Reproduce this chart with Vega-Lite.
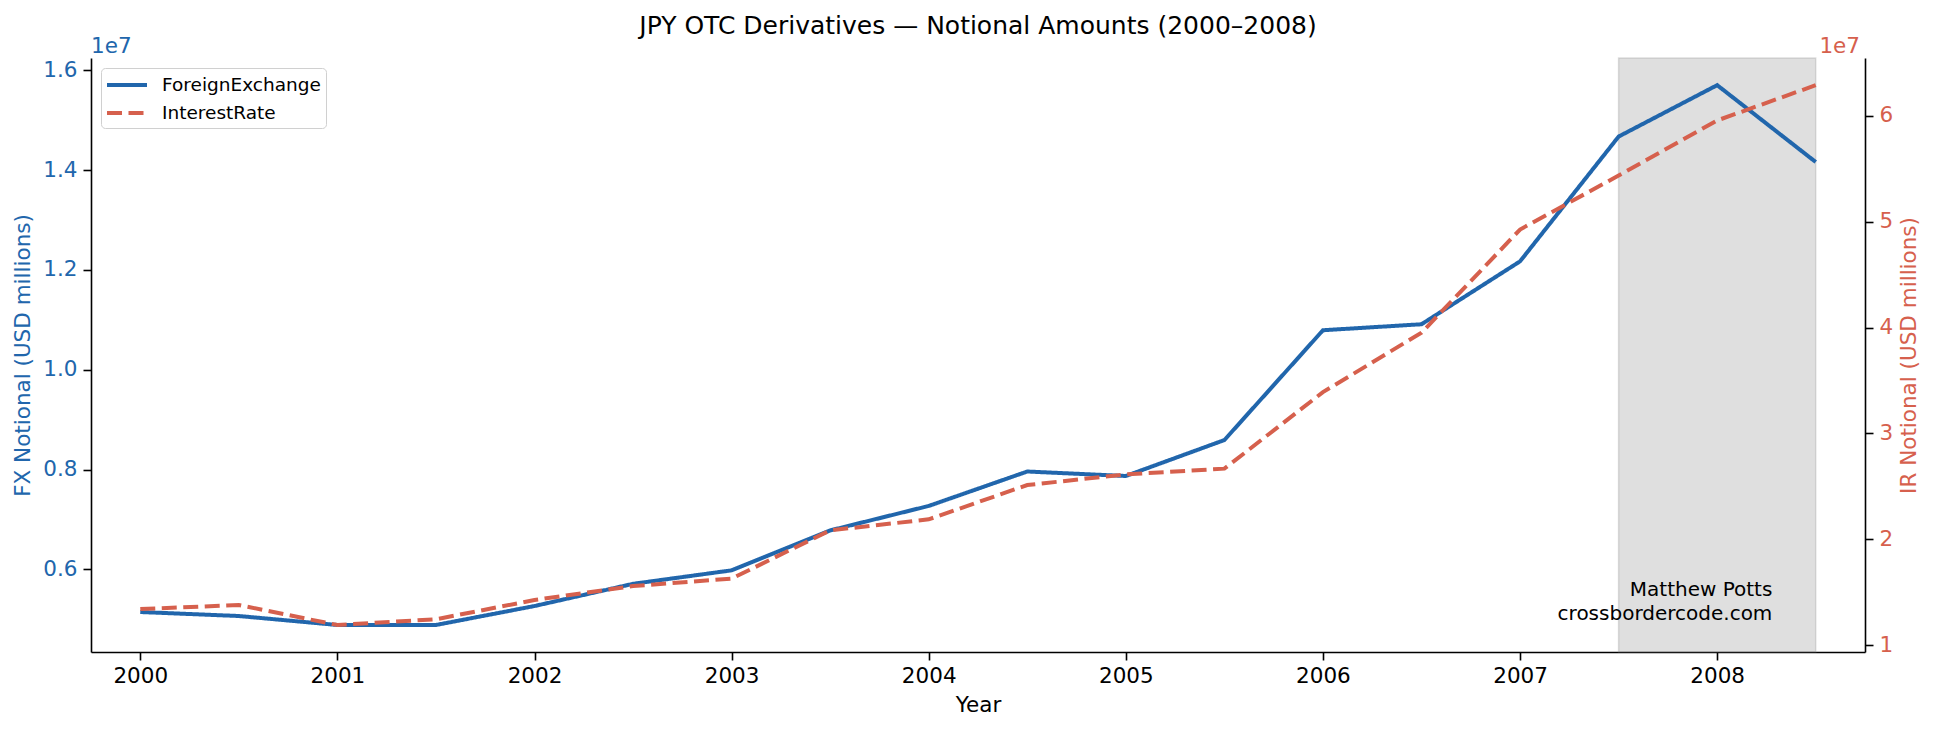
{
  "$schema": "https://vega.github.io/schema/vega-lite/v6.json",
  "autosize": {"type": "none"},
  "width": 1774,
  "height": 594,
  "padding": {"left": 91, "top": 58, "right": 68, "bottom": 79},
  "background": "white",
  "title": {
    "text": "JPY OTC Derivatives — Notional Amounts (2000–2008)",
    "fontSize": 25,
    "fontWeight": "normal",
    "font": "DejaVu Sans",
    "color": "black",
    "anchor": "middle",
    "frame": "group",
    "baseline": "alphabetic",
    "offset": 2,
    "dy": 25
  },
  "datasets": {
    "notional": [
      {"t": 2000.0, "series": "ForeignExchange", "value": 5145000},
      {"t": 2000.5, "series": "ForeignExchange", "value": 5065000},
      {"t": 2001.0, "series": "ForeignExchange", "value": 4885000},
      {"t": 2001.5, "series": "ForeignExchange", "value": 4885000},
      {"t": 2002.0, "series": "ForeignExchange", "value": 5265000},
      {"t": 2002.5, "series": "ForeignExchange", "value": 5710000},
      {"t": 2003.0, "series": "ForeignExchange", "value": 5980000},
      {"t": 2003.5, "series": "ForeignExchange", "value": 6780000},
      {"t": 2004.0, "series": "ForeignExchange", "value": 7270000},
      {"t": 2004.5, "series": "ForeignExchange", "value": 7960000},
      {"t": 2005.0, "series": "ForeignExchange", "value": 7870000},
      {"t": 2005.5, "series": "ForeignExchange", "value": 8590000},
      {"t": 2006.0, "series": "ForeignExchange", "value": 10790000},
      {"t": 2006.5, "series": "ForeignExchange", "value": 10910000},
      {"t": 2007.0, "series": "ForeignExchange", "value": 12170000},
      {"t": 2007.5, "series": "ForeignExchange", "value": 14670000},
      {"t": 2008.0, "series": "ForeignExchange", "value": 15700000},
      {"t": 2008.5, "series": "ForeignExchange", "value": 14160000},
      {"t": 2000.0, "series": "InterestRate", "value": 13410000},
      {"t": 2000.5, "series": "InterestRate", "value": 13790000},
      {"t": 2001.0, "series": "InterestRate", "value": 11900000},
      {"t": 2001.5, "series": "InterestRate", "value": 12440000},
      {"t": 2002.0, "series": "InterestRate", "value": 14260000},
      {"t": 2002.5, "series": "InterestRate", "value": 15580000},
      {"t": 2003.0, "series": "InterestRate", "value": 16280000},
      {"t": 2003.5, "series": "InterestRate", "value": 20840000},
      {"t": 2004.0, "series": "InterestRate", "value": 21880000},
      {"t": 2004.5, "series": "InterestRate", "value": 25120000},
      {"t": 2005.0, "series": "InterestRate", "value": 26130000},
      {"t": 2005.5, "series": "InterestRate", "value": 26670000},
      {"t": 2006.0, "series": "InterestRate", "value": 33900000},
      {"t": 2006.5, "series": "InterestRate", "value": 39510000},
      {"t": 2007.0, "series": "InterestRate", "value": 49260000},
      {"t": 2007.5, "series": "InterestRate", "value": 54360000},
      {"t": 2008.0, "series": "InterestRate", "value": 59560000},
      {"t": 2008.5, "series": "InterestRate", "value": 62890000}
    ],
    "shade": [
      {"start": 2007.5, "end": 2008.5}
    ],
    "notes": [
      {"fxLabel": "1e7", "irLabel": "1e7", "credit": "Matthew Potts\ncrossbordercode.com"}
    ]
  },
  "layer": [
    {
      "layer": [
        {
          "data": {"name": "shade"},
          "mark": {"type": "rect", "fill": "#808080", "fillOpacity": 0.25, "stroke": "#808080", "strokeOpacity": 0.25, "strokeWidth": 1.5},
          "encoding": {
            "x": {"field": "start", "type": "quantitative", "scale": {"domain": [1999.75, 2008.75], "nice": false, "zero": false}, "title": "Year"},
            "x2": {"field": "end"}
          }
        },
        {
          "data": {"name": "notional"},
          "transform": [{"filter": "datum.series === 'ForeignExchange'"}],
          "mark": {"type": "line", "strokeWidth": 4, "strokeCap": "butt"},
          "encoding": {
            "x": {
              "field": "t",
              "type": "quantitative",
              "title": "Year",
              "scale": {"domain": [1999.75, 2008.75], "nice": false, "zero": false},
              "axis": {
                "values": [2000, 2001, 2002, 2003, 2004, 2005, 2006, 2007, 2008],
                "format": "d",
                "labelPadding": 5,
                "titlePadding": 8
              }
            },
            "y": {
              "field": "value",
              "type": "quantitative",
              "title": "FX Notional (USD millions)",
              "scale": {"domain": [4344000, 16244000], "nice": false, "zero": false},
              "axis": {
                "orient": "left",
                "values": [6000000, 8000000, 10000000, 12000000, 14000000, 16000000],
                "labelExpr": "format(datum.value / 10000000, '.1f')",
                "labelColor": "#2166ac",
                "titleColor": "#2166ac",
                "labelPadding": 6,
                "titlePadding": 8
              }
            },
            "color": {
              "field": "series",
              "type": "nominal",
              "scale": {"domain": ["ForeignExchange", "InterestRate"], "range": ["#2166ac", "#d6604d"]},
              "legend": {
                "title": null,
                "orient": "top-left",
                "offset": 10,
                "symbolType": "M-2,0H2",
                "symbolSize": 400,
                "symbolStrokeWidth": 4,
                "symbolOffset": 9,
                "labelFontSize": 18.5,
                "labelOffset": 23,
                "rowPadding": 6,
                "padding": 5,
                "strokeColor": "#d0d0d0",
                "fillColor": "white",
                "cornerRadius": 4
              }
            },
            "strokeDash": {
              "field": "series",
              "type": "nominal",
              "scale": {"domain": ["ForeignExchange", "InterestRate"], "range": [[1, 0], [15, 6.5]]},
              "legend": {"title": null}
            }
          }
        },
        {
          "data": {"name": "notes"},
          "mark": {"type": "text", "align": "left", "baseline": "alphabetic", "dy": -5, "fontSize": 21.5, "color": "#2166ac"},
          "encoding": {
            "x": {"datum": 1999.75, "type": "quantitative", "title": "Year"},
            "y": {"datum": 16244000, "type": "quantitative", "title": "FX Notional (USD millions)"},
            "text": {"field": "fxLabel"}
          }
        },
        {
          "data": {"name": "notes"},
          "transform": [{"calculate": "split(datum.credit, '\\n')", "as": "lines"}],
          "mark": {"type": "text", "align": "right", "baseline": "bottom", "fontSize": 20, "lineHeight": 23.5, "color": "black"},
          "encoding": {
            "x": {"datum": 2008.28, "type": "quantitative", "title": "Year"},
            "y": {"datum": 5380000, "type": "quantitative", "title": "FX Notional (USD millions)"},
            "text": {"field": "lines"}
          }
        }
      ]
    },
    {
      "layer": [
        {
          "data": {"name": "notional"},
          "transform": [{"filter": "datum.series === 'InterestRate'"}],
          "mark": {"type": "line", "strokeWidth": 4, "strokeCap": "butt"},
          "encoding": {
            "x": {"field": "t", "type": "quantitative", "title": "Year"},
            "y": {
              "field": "value",
              "type": "quantitative",
              "title": "IR Notional (USD millions)",
              "scale": {"domain": [9350000, 65460000], "nice": false, "zero": false},
              "axis": {
                "orient": "right",
                "titleAngle": -90,
                "titleBaseline": "top",
                "values": [10000000, 20000000, 30000000, 40000000, 50000000, 60000000],
                "labelExpr": "format(datum.value / 10000000, 'd')",
                "labelColor": "#d6604d",
                "titleColor": "#d6604d",
                "labelPadding": 6,
                "titlePadding": 6
              }
            },
            "color": {"field": "series", "type": "nominal"},
            "strokeDash": {"field": "series", "type": "nominal"}
          }
        },
        {
          "data": {"name": "notes"},
          "mark": {"type": "text", "align": "right", "baseline": "alphabetic", "dy": -5, "dx": -5, "fontSize": 21.5, "color": "#d6604d"},
          "encoding": {
            "x": {"datum": 2008.75, "type": "quantitative", "title": "Year"},
            "y": {"datum": 65460000, "type": "quantitative", "title": "IR Notional (USD millions)"},
            "text": {"field": "irLabel"}
          }
        }
      ]
    }
  ],
  "resolve": {"scale": {"y": "independent"}, "axis": {"y": "independent"}},
  "config": {
    "font": "DejaVu Sans",
    "view": {"stroke": null},
    "axis": {
      "grid": false,
      "domainColor": "black",
      "domainWidth": 1.6,
      "tickColor": "black",
      "tickWidth": 1.6,
      "tickSize": 8,
      "labelFontSize": 21.5,
      "labelColor": "black",
      "titleFontSize": 21.5,
      "titleFontWeight": "normal",
      "titleColor": "black"
    },
    "legend": {"labelFont": "DejaVu Sans", "labelColor": "black"}
  }
}
